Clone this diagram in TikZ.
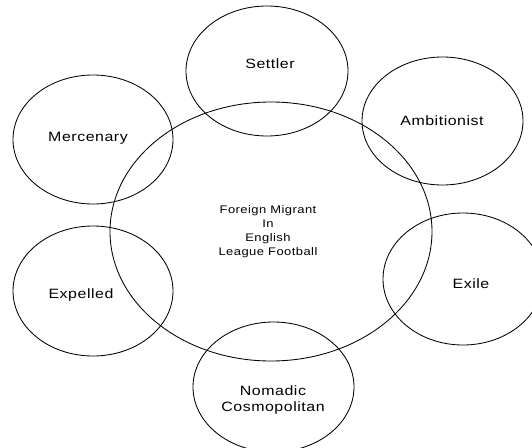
\documentclass[tikz,border=0pt]{standalone}
\usepackage{fontspec}
\setmainfont{Liberation Sans}[FakeStretch=1.18, LetterSpace=4]
\usetikzlibrary{shapes.geometric}
\begin{document}
\begin{tikzpicture}[x=1pt, y=-1pt,
  ring/.style={draw, ellipse, inner sep=0pt, line width=0.85pt},
  tag/.style={font=\fontsize{13.5}{16}\selectfont, inner sep=0pt, align=center},
  core/.style={font=\fontsize{11}{14}\selectfont, inner sep=0pt, align=center}]
  \clip (0,0) rectangle (532,447);
  \fill[white] (0,0) rectangle (532,447);
  % central theme
  \node[ring, minimum width=322pt, minimum height=259pt] (centre) at (271,231.5) {};
  % surrounding migrant types
  \node[ring, minimum width=162pt, minimum height=130pt] (settler) at (267,71) {};
  \node[ring, minimum width=161pt, minimum height=128pt] (ambit) at (442.5,121) {};
  \node[ring, minimum width=160pt, minimum height=129pt] (merc) at (93,139.5) {};
  \node[ring, minimum width=160pt, minimum height=130pt] (expel) at (93,291) {};
  \node[ring, minimum width=160pt, minimum height=132pt] (exile) at (463,279) {};
  \node[ring, minimum width=161pt, minimum height=130pt] (nomad) at (273.5,387) {};
  % labels
  \node[core] (centreTxt) at (268,232) {Foreign Migrant\\In\\English\\League Football};
  \node[tag] (settlerTxt) at (270,64) {Settler};
  \node[tag] (ambitTxt) at (442,121) {Ambitionist};
  \node[tag] (mercTxt) at (88,138) {Mercenary};
  \node[tag] (expelTxt) at (81,295) {Expelled};
  \node[tag] (exileTxt) at (471,284) {Exile};
  \node[tag] (nomadTxt) at (273,400) {Nomadic\\Cosmopolitan};
\end{tikzpicture}
\end{document}
